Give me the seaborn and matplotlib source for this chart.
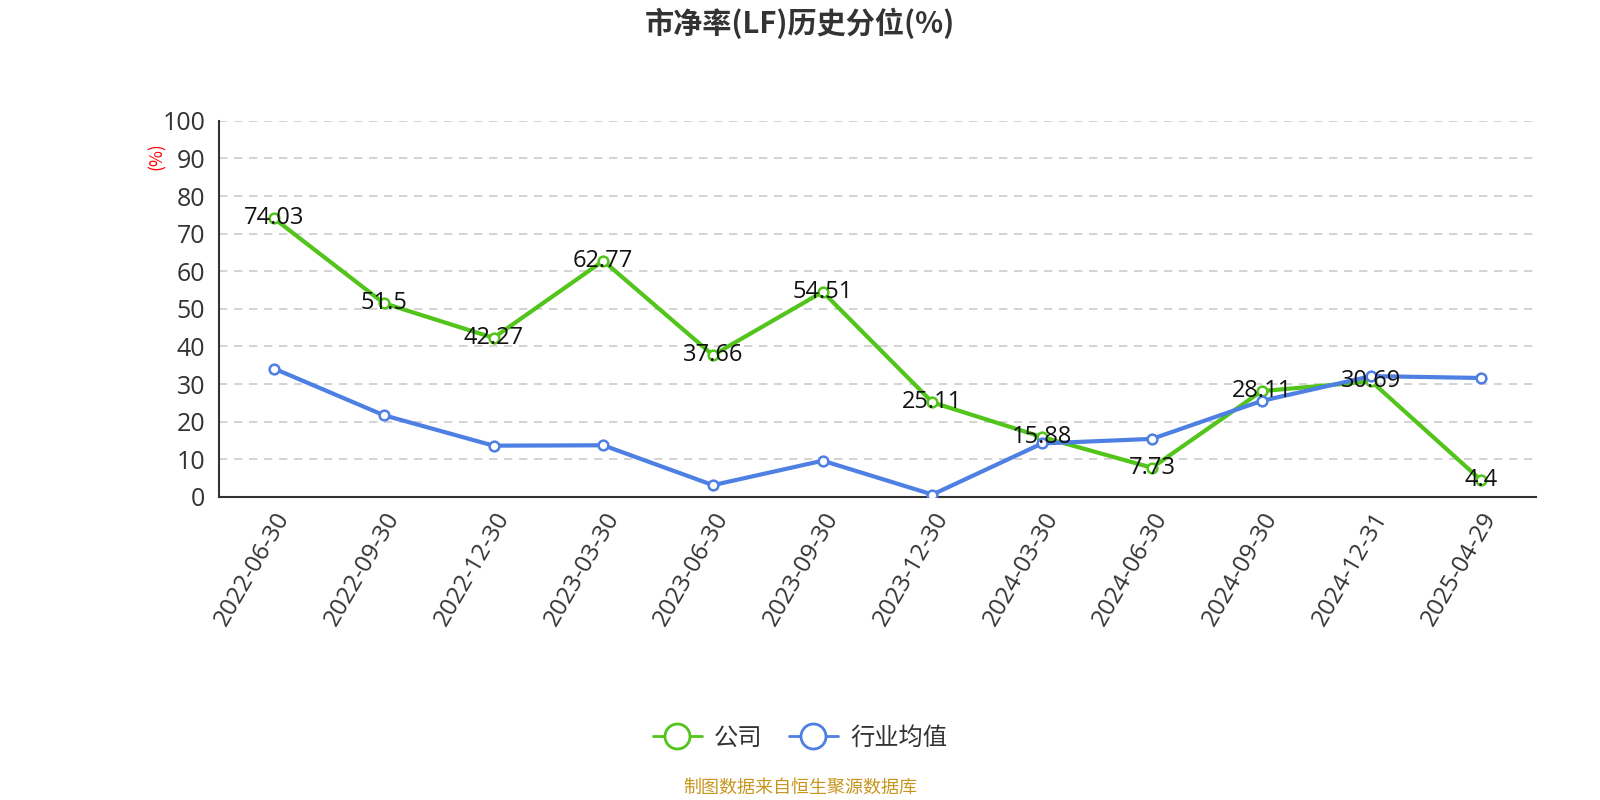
import matplotlib
matplotlib.use("Agg")
import matplotlib.pyplot as plt
import seaborn as sns
import pandas as pd
import numpy as np
from matplotlib.lines import Line2D

dates = ["2022-06-30", "2022-09-30", "2022-12-30", "2023-03-30", "2023-06-30", "2023-09-30",
         "2023-12-30", "2024-03-30", "2024-06-30", "2024-09-30", "2024-12-31", "2025-04-29"]
company = [74.03, 51.5, 42.27, 62.77, 37.66, 54.51, 25.11, 15.88, 7.73, 28.11, 30.69, 4.4]
industry = [34.1, 21.7, 13.6, 13.7, 3.1, 9.6, 0.6, 14.2, 15.4, 25.5, 32.1, 31.6]
series_names = ["公司", "行业均值"]
colors = ["#52c41a", "#4e7fe3"]

sns.set_theme(style="white")
FAM = ['Open Sans', 'Noto Sans CJK SC', 'DejaVu Sans']
plt.rcParams['font.family'] = FAM

df = pd.DataFrame({
    "x": list(range(len(dates))) * 2,
    "value": company + industry,
    "series": [series_names[0]] * len(dates) + [series_names[1]] * len(dates),
})

fig = plt.figure(figsize=(16, 8), dpi=100)
ax = fig.add_axes([0.137, 0.379, 0.823, 0.470])

sns.lineplot(data=df, x="x", y="value", hue="series", palette=colors, ax=ax,
             linewidth=3, marker="o", markersize=7, markerfacecolor="white",
             markeredgewidth=1.8, legend=False, zorder=3)
for line, c in zip(ax.get_lines(), colors):
    line.set_markeredgecolor(c)

for i, v in enumerate(company):
    ax.text(i, v, f"{v:g}", ha="center", va="center", fontsize=17, color="#111111", zorder=5)

ax.set_xlim(-0.5, len(dates) - 0.5)
ax.set_ylim(0, 100)
ax.set_yticks(range(0, 101, 10))
ax.set_yticklabels([str(t) for t in range(0, 101, 10)], fontsize=18, color="#333333")
ax.set_xticks(np.arange(-0.5, len(dates), 1.0))
ax.set_xticklabels([])
ax.set_xticks(range(len(dates)), minor=True)
ax.set_xticklabels(dates, minor=True, rotation=60, ha="right", rotation_mode="anchor",
                   fontsize=17.5, color="#333333")
ax.tick_params(axis="x", which="major", length=6, width=1.2, color="#333333", direction="out")
ax.tick_params(axis="x", which="minor", length=0, pad=8)
ax.tick_params(axis="y", length=6, width=1.2, color="#333333", direction="out", pad=4)

ax.grid(axis="y", linestyle=(0, (5, 4)), color="#cccccc", linewidth=1.2)
ax.grid(axis="x", visible=False)
for s in ["top", "right"]:
    ax.spines[s].set_visible(False)
for s in ["left", "bottom"]:
    ax.spines[s].set_color("#333333")
    ax.spines[s].set_linewidth(1.5)
ax.set_xlabel("")
ax.set_ylabel("")

fig.text(0.098, 0.805, "(%)", rotation=90, color="red", fontsize=12.5, ha="center", va="center",
         family=['Noto Sans CJK SC'])
fig.text(0.5, 0.971, "市净率(LF)历史分位(%)", ha="center", va="center", fontsize=21,
         fontweight="bold", color="#333333", family=['Noto Sans CJK SC', 'DejaVu Sans'])

handles = [Line2D([0], [0], color=c, linewidth=2, marker="o", markersize=18,
                  markerfacecolor="white", markeredgewidth=2, markeredgecolor=c) for c in colors]
fig.legend(handles, series_names, loc="center", bbox_to_anchor=(0.5, 0.078), ncol=2,
           frameon=False, handlelength=2.0, columnspacing=1.1, handletextpad=0.5,
           labelcolor="#333333", prop={'family': ['Noto Sans CJK SC'], 'size': 17.5})

fig.text(0.5, 0.016, "制图数据来自恒生聚源数据库", ha="center", va="center", fontsize=13,
         color="#c8961e", family=['Noto Sans CJK SC'])

fig.savefig("out.png", dpi=100, facecolor="white")
